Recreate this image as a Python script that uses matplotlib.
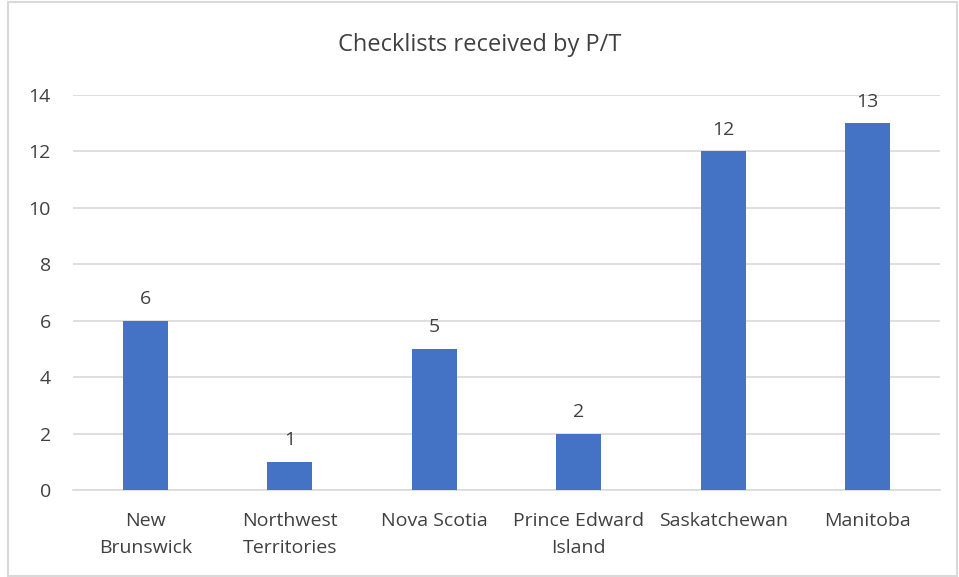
import matplotlib.pyplot as plt
from matplotlib.patches import Rectangle
import numpy as np

plt.rcParams['font.family'] = ['Open Sans', 'DejaVu Sans']

regions = ['New\nBrunswick', 'Northwest\nTerritories', 'Nova Scotia',
           'Prince Edward\nIsland', 'Saskatchewan', 'Manitoba']
checklists = [6, 1, 5, 2, 12, 13]

fig = plt.figure(figsize=(9.59, 5.77), dpi=100)
# light frame around the chart area
fig.patches.append(Rectangle((8 / 959, 0.002), 949 / 959, 0.995, transform=fig.transFigure,
                             fill=False, edgecolor='#D9D9D9', linewidth=1.5))
ax = fig.add_axes([73 / 959, 87 / 577, 867 / 959, 395 / 577])

x = np.arange(len(regions))
bars = ax.bar(x, checklists, width=0.31, color='#4472C4', zorder=3)
for b, v in zip(bars, checklists):
    ax.text(b.get_x() + b.get_width() / 2, v + 0.45, str(v),
            ha='center', va='bottom', fontsize=14, color='#404040')

ax.set_ylim(0, 14)
ax.set_xlim(-0.5, len(regions) - 0.5)
ax.set_yticks(range(0, 15, 2))
ax.set_xticks(x)
ax.set_xticklabels(regions, fontsize=14, color='#404040', linespacing=1.6)
ax.tick_params(axis='y', labelsize=14, labelcolor='#404040', length=0, pad=16)
ax.tick_params(axis='x', length=0, pad=16)
ax.grid(axis='y', color='#D9D9D9', linewidth=1.2, zorder=0)
for s in ['top', 'right', 'left']:
    ax.spines[s].set_visible(False)
ax.spines['bottom'].set_color('#D9D9D9')
ax.spines['bottom'].set_linewidth(1.2)

fig.text(0.5, 1 - 45 / 577, 'Checklists received by P/T', ha='center', va='center',
         fontsize=17, color='#404040')

fig.savefig('out.png', dpi=100)
